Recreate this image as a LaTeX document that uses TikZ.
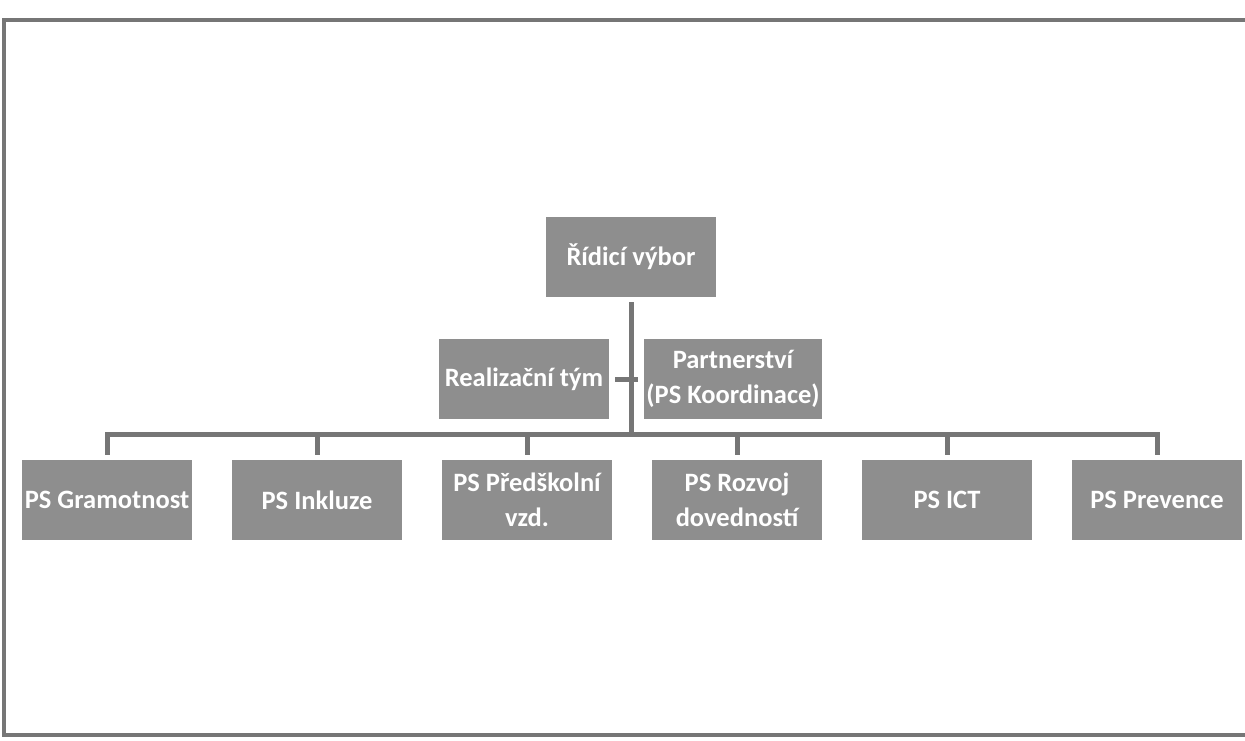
\documentclass[tikz,border=0pt]{standalone}
\usepackage{fontspec}
\setmainfont{Carlito}
\usetikzlibrary{positioning}

\definecolor{boxgray}{RGB}{142,142,142}
\definecolor{linegray}{RGB}{118,118,118}

\tikzset{
  unit/.style={rectangle, fill=boxgray, text=white, minimum width=170pt, minimum height=80pt,
    inner sep=2pt, align=center, font=\fontsize{26.5}{35}\selectfont\bfseries},
  link/.style={draw=linegray, line width=5pt},
}

\begin{document}
\begin{tikzpicture}[x=1pt,y=-1pt,node distance=39.6pt]

  \useasboundingbox (0,0) rectangle (1245,740);
  % page frame (open on the right)
  \draw[linegray, line width=3.5pt] (1245,20) -- (4,20) -- (4,735) -- (1245,735);

  \node[unit] (rv) at (631,257) {Řídicí výbor};
  \node[unit] (rt) at (524,379) {Realizační tým};
  \node[unit] (part) at (733,379) {Partnerství\\(PS Koordinace)};

  \node[unit] (gram) at (107,500) {PS Gramotnost};
  \node[unit] (inkl) [right=of gram] {PS Inkluze};
  \node[unit] (pred) [right=of inkl] {PS Předškolní\\vzd.};
  \node[unit] (rozv) [right=of pred] {PS Rozvoj\\dovedností};
  \node[unit] (ict) [right=of rozv] {PS ICT};
  \node[unit] (prev) [right=of ict] {PS Prevence};

  \coordinate (bus) at (631,434);

  \draw[link, shorten <=5pt] (rv.south) -- (bus);
  \draw[link, shorten <=6pt, shorten >=6pt] (rt.east) -- (part.west);
  \draw[link, shorten <=5pt, shorten >=5pt] (gram.north) |- (bus) -| (prev.north);
  \draw[link, shorten <=5pt] (inkl.north) -- (inkl.north |- bus);
  \draw[link, shorten <=5pt] (pred.north) -- (pred.north |- bus);
  \draw[link, shorten <=5pt] (rozv.north) -- (rozv.north |- bus);
  \draw[link, shorten <=5pt] (ict.north) -- (ict.north |- bus);

\end{tikzpicture}
\end{document}
